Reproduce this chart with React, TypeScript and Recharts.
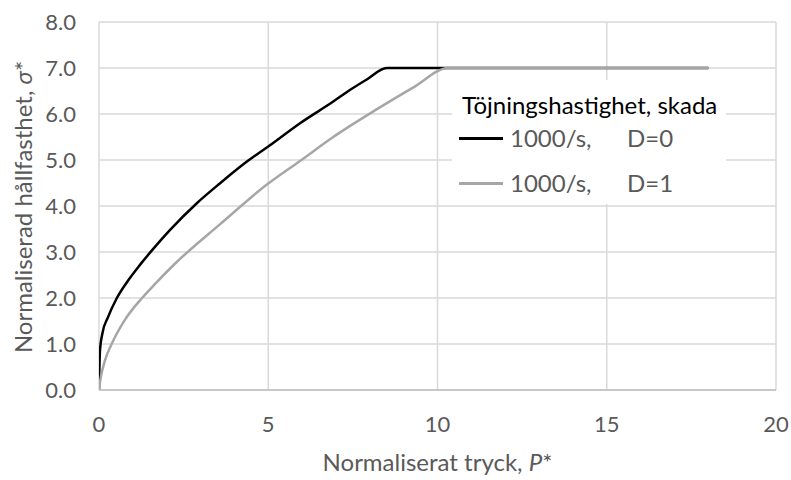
import { LineChart, Line, XAxis, YAxis, CartesianGrid, Legend } from "recharts";

// P* (normaliserat tryck) vs σ* (normaliserad hållfasthet)
const D0_P = [0, 0.01, 0.03, 0.1, 0.27, 0.52, 0.87, 1.21, 1.57, 2.1, 2.89, 3.57, 4.36, 5.05, 5.94, 6.92, 7.41, 7.91, 8.5, 18];
const D0_S = [0, 0.4, 0.87, 1.23, 1.59, 1.99, 2.39, 2.72, 3.04, 3.48, 4.06, 4.49, 4.96, 5.32, 5.8, 6.27, 6.52, 6.75, 7.0, 7.0];

const D1_P = [0, 0.02, 0.06, 0.18, 0.38, 0.77, 1.26, 1.65, 2.25, 3.57, 4.95, 5.94, 6.92, 8.2, 9.29, 10.32, 18];
const D1_S = [0, 0.12, 0.3, 0.65, 1.01, 1.53, 1.99, 2.3, 2.75, 3.6, 4.46, 4.98, 5.5, 6.1, 6.58, 7.0, 7.0];

const X_TICKS = [0, 5, 10, 15, 20];
const Y_TICKS = [0, 1, 2, 3, 4, 5, 6, 7, 8];

const LEGEND_TITLE = "Töjningshastighet, skada";
const SERIES = [
    { key: "d0", rate: "1000/s,", damage: "D=0", color: "#000000" },
    { key: "d1", rate: "1000/s,", damage: "D=1", color: "#a6a6a6" },
];

const FONT = "Lato, 'Open Sans', sans-serif";
const TICK_COLOR = "#595959";

const toPoints = (ps: number[], ss: number[]) => ps.map((p, i) => ({ p, s: ss[i] }));
const d0Data = toPoints(D0_P, D0_S);
const d1Data = toPoints(D1_P, D1_S);

function XTitle({ viewBox }: any) {
    const cx = viewBox.x + viewBox.width / 2;
    return (
        <text x={cx} y={viewBox.y + 81} textAnchor="middle" fill={TICK_COLOR} fontSize={24} fontFamily={FONT}>
            Normaliserat tryck, <tspan fontStyle="italic">P</tspan>*
        </text>
    );
}

function YTitle({ viewBox }: any) {
    const cx = 22;
    const cy = viewBox.y + viewBox.height / 2 + 1;
    return (
        <text
            x={cx}
            y={cy}
            textAnchor="middle"
            dominantBaseline="central"
            transform={`rotate(-90 ${cx} ${cy})`}
            fill={TICK_COLOR}
            fontSize={24}
            fontFamily={FONT}
        >
            Normaliserad hållfasthet, <tspan fontStyle="italic">σ</tspan>*
        </text>
    );
}

function LegendBox() {
    return (
        <div style={{ position: "relative", width: 274, height: 124, background: "#fff", fontFamily: FONT }}>
            <div style={{ position: "absolute", left: 10, top: 11, fontSize: 24, lineHeight: "28px", color: "#000" }}>
                {LEGEND_TITLE}
            </div>
            {SERIES.map((s, i) => (
                <div key={s.key} style={{ position: "absolute", left: 0, top: 44 + i * 45, height: 28, width: 274 }}>
                    <div style={{ position: "absolute", left: 7, top: 13, width: 44, height: 3, background: s.color }} />
                    <span style={{ position: "absolute", left: 58, top: 0, fontSize: 24, lineHeight: "28px", color: TICK_COLOR }}>
                        {s.rate}
                    </span>
                    <span style={{ position: "absolute", left: 175, top: 0, fontSize: 24, lineHeight: "28px", color: TICK_COLOR }}>
                        {s.damage}
                    </span>
                </div>
            ))}
        </div>
    );
}

export default function App() {
    return (
        <div style={{ position: "absolute", left: 0, top: 0, width: 791, height: 480, background: "#fff" }}>
            <LineChart width={791} height={480} margin={{ top: 22, right: 15, left: 24, bottom: 0 }}>
                <CartesianGrid stroke="#d9d9d9" strokeWidth={1.5} />
                <XAxis
                    type="number"
                    dataKey="p"
                    domain={[0, 20]}
                    ticks={X_TICKS}
                    allowDataOverflow
                    height={90}
                    tickSize={0}
                    tickMargin={26}
                    tickLine={false}
                    axisLine={{ stroke: "#bfbfbf", strokeWidth: 1.5 }}
                    tick={{ fill: TICK_COLOR, fontSize: 22, fontFamily: FONT }}
                    label={<XTitle />}
                />
                <YAxis
                    type="number"
                    domain={[0, 8]}
                    ticks={Y_TICKS}
                    width={75}
                    tickSize={0}
                    tickMargin={23}
                    tickLine={false}
                    axisLine={false}
                    tickFormatter={(v: number) => v.toFixed(1)}
                    tick={{ fill: TICK_COLOR, fontSize: 22, fontFamily: FONT }}
                    label={<YTitle />}
                />
                <Legend
                    layout="horizontal"
                    verticalAlign="middle"
                    align="center"
                    content={() => <LegendBox />}
                    wrapperStyle={{ position: "absolute", left: 452, top: 80, width: 274, height: 124 }}
                />
                <Line
                    data={d0Data}
                    dataKey="s"
                    type="monotone"
                    stroke="#000000"
                    strokeWidth={2.5}
                    dot={false}
                    isAnimationActive={false}
                />
                <Line
                    data={d1Data}
                    dataKey="s"
                    type="monotone"
                    stroke="#a6a6a6"
                    strokeWidth={2.5}
                    dot={false}
                    isAnimationActive={false}
                />
            </LineChart>
        </div>
    );
}
